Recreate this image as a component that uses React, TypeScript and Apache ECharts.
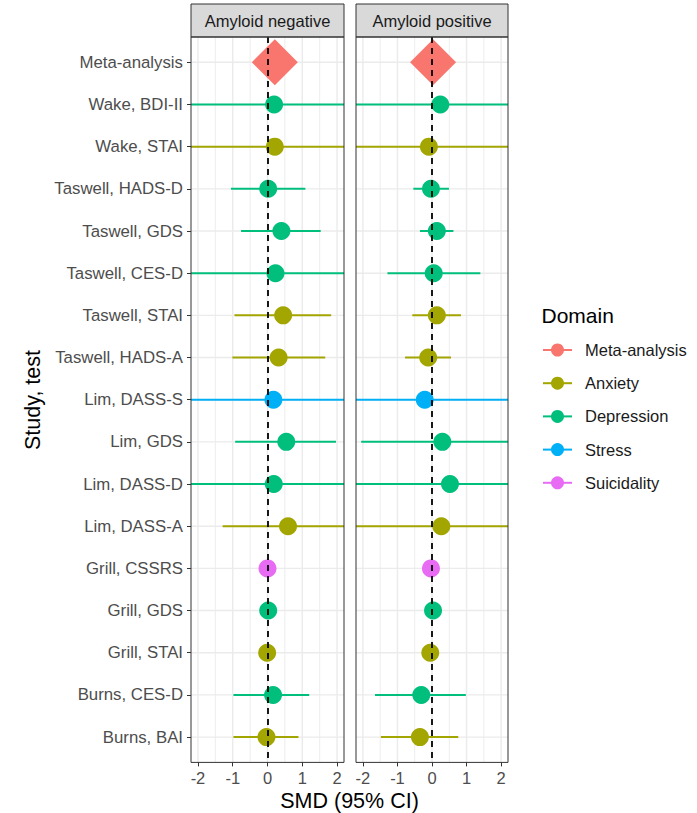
import React, { useEffect, useRef } from 'react';
import * as echarts from 'echarts';

const categories = [
  'Meta-analysis', 'Wake, BDI-II', 'Wake, STAI', 'Taswell, HADS-D', 'Taswell, GDS',
  'Taswell, CES-D', 'Taswell, STAI', 'Taswell, HADS-A', 'Lim, DASS-S', 'Lim, GDS',
  'Lim, DASS-D', 'Lim, DASS-A', 'Grill, CSSRS', 'Grill, GDS', 'Grill, STAI',
  'Burns, CES-D', 'Burns, BAI',
];
const domainNames = ['Meta-analysis', 'Anxiety', 'Depression', 'Stress', 'Suicidality'];
const domainColors = ['#F8766D', '#A3A500', '#00BF7D', '#00B0F6', '#E76BF3'];
const rowDomains = [
  'Meta-analysis', 'Depression', 'Anxiety', 'Depression', 'Depression',
  'Depression', 'Anxiety', 'Anxiety', 'Stress', 'Depression',
  'Depression', 'Anxiety', 'Suicidality', 'Depression', 'Anxiety',
  'Depression', 'Anxiety',
];
const panelTitles = ['Amyloid negative', 'Amyloid positive'];

// Amyloid negative
const negSMD = [0.21, 0.19, 0.21, 0.02, 0.40, 0.23, 0.45, 0.32, 0.17, 0.54, 0.18, 0.59, 0.00, 0.02, -0.01, 0.16, -0.03];
const negLow = [null, -3.2, -3.6, -1.05, -0.76, -2.9, -0.95, -1.01, -3.1, -0.93, -2.8, -1.29, null, null, null, -0.98, -0.98];
const negHigh = [null, 3.6, 4.0, 1.09, 1.53, 3.4, 1.83, 1.66, 3.4, 1.97, 3.2, 2.5, null, null, null, 1.20, 0.89];
// Amyloid positive
const posSMD = [0.03, 0.24, -0.09, -0.03, 0.14, 0.05, 0.14, -0.11, -0.21, 0.30, 0.52, 0.27, -0.03, 0.03, -0.05, -0.31, -0.35];
const posLow = [null, -3.3, -3.5, -0.54, -0.35, -1.29, -0.57, -0.78, -2.9, -2.05, -2.6, -3.0, null, null, null, -1.65, -1.48];
const posHigh = [null, 3.8, 3.3, 0.49, 0.62, 1.40, 0.84, 0.55, 2.5, 2.65, 3.6, 3.5, null, null, null, 0.98, 0.76];

const xTicks = [-2, -1, 0, 1, 2];
const xMinor = [-1.5, -0.5, 0.5, 1.5];
const X_MIN = -2.2;
const X_MAX = 2.2;
const Y_MIN = -0.6;
const Y_MAX = categories.length - 1 + 0.6;

const FONT = '"Liberation Sans", Arial, Helvetica, sans-serif';

export default function App() {
  const ref = useRef<HTMLDivElement>(null);
  useEffect(() => {
    document.body.style.margin = '0';
    const chart = echarts.init(ref.current!, null, { renderer: 'svg' });
    const top = 37;
    const height = 725.4;
    const panels = [
      { left: 191, width: 153, smd: negSMD, low: negLow, high: negHigh },
      { left: 356, width: 152, smd: posSMD, low: posLow, high: posHigh },
    ];
    const rowIdx = categories.map((_, i) => i);
    const colorOf = (d: string) => domainColors[domainNames.indexOf(d)];

    const grids: any[] = [];
    const xAxes: any[] = [];
    const yAxes: any[] = [];
    const series: any[] = [];
    const graphics: any[] = [];

    panels.forEach((p, g) => {
      grids.push({ left: p.left, top, width: p.width, height, show: false, containLabel: false, outerBoundsMode: 'none' });
      xAxes.push({
        type: 'value', gridIndex: g, min: X_MIN, max: X_MAX, position: 'bottom',
        axisLine: { show: false, onZero: false }, splitLine: { show: false },
        axisTick: { show: true, length: 4, lineStyle: { color: '#333333', width: 1 }, customValues: xTicks },
        axisLabel: {
          customValues: xTicks, color: '#4D4D4D', fontSize: 16.5, fontFamily: FONT, margin: 7,
          formatter: (v: number) => String(v),
        },
      });
      yAxes.push({
        type: 'value', gridIndex: g, min: Y_MIN, max: Y_MAX, inverse: true, position: 'left',
        axisLine: { show: false, onZero: false }, splitLine: { show: false },
        axisTick: { show: g === 0, length: 4, lineStyle: { color: '#333333', width: 1 }, customValues: rowIdx },
        axisLabel: {
          show: g === 0, customValues: rowIdx, color: '#4D4D4D', fontSize: 16.8, fontFamily: FONT, margin: 8,
          formatter: (v: number) => categories[Math.round(v)] ?? '',
        },
      });

      // grid lines
      const gl: number[][] = [
        ...xTicks.map((v) => [v, 0]),
        ...xMinor.map((v) => [v, 1]),
        ...rowIdx.map((v) => [v, 2]),
      ];
      series.push({
        type: 'custom', xAxisIndex: g, yAxisIndex: g, z: 0, silent: true,
        data: gl,
        encode: { x: 0 },
        renderItem: (params: any, api: any) => {
          const v = api.value(0);
          const kind = api.value(1);
          let a, b;
          if (kind === 2) {
            a = api.coord([X_MIN, v]);
            b = api.coord([X_MAX, v]);
          } else {
            a = api.coord([v, Y_MIN]);
            b = api.coord([v, Y_MAX]);
          }
          return {
            type: 'line',
            shape: { x1: a[0], y1: a[1], x2: b[0], y2: b[1] },
            style: { stroke: '#EBEBEB', lineWidth: kind === 1 ? 0.9 : 1.4 },
          };
        },
      });

      // error bars
      const eb: any[] = [];
      rowIdx.forEach((i) => {
        if (p.low[i] != null && p.high[i] != null) {
          eb.push([p.low[i], p.high[i], i, domainNames.indexOf(rowDomains[i])]);
        }
      });
      series.push({
        type: 'custom', xAxisIndex: g, yAxisIndex: g, z: 2, silent: true, clip: true,
        data: eb,
        encode: { x: [0, 1], y: 2 },
        renderItem: (params: any, api: any) => {
          const lo = Math.max(api.value(0), X_MIN);
          const hi = Math.min(api.value(1), X_MAX);
          const y = api.value(2);
          const a = api.coord([lo, y]);
          const b = api.coord([hi, y]);
          return {
            type: 'line',
            shape: { x1: a[0], y1: a[1], x2: b[0], y2: b[1] },
            style: { stroke: domainColors[api.value(3)], lineWidth: 2 },
          };
        },
      });

      // points
      series.push({
        type: 'scatter', xAxisIndex: g, yAxisIndex: g, z: 3, silent: true,
        data: rowIdx.map((i) => ({
          value: [p.smd[i], i],
          symbol: i === 0 ? 'diamond' : 'circle',
          symbolSize: i === 0 ? 46 : 18,
          itemStyle: { color: colorOf(rowDomains[i]), opacity: 1 },
        })),
        markLine: {
          silent: true, symbol: ['none', 'none'], animation: false,
          label: { show: false },
          lineStyle: { color: '#000000', type: [6, 5], width: 1.8, opacity: 1 },
          emphasis: { disabled: true },
          data: [{ xAxis: 0 }],
        },
      });

      // strip + panel border
      graphics.push({
        type: 'rect', z: 100,
        shape: { x: p.left, y: 4, width: p.width, height: top - 4 },
        style: { fill: '#D9D9D9', stroke: '#333333', lineWidth: 1 },
      });
      graphics.push({
        type: 'text', z: 101, x: p.left + p.width / 2, y: 21,
        style: {
          text: panelTitles[g], fill: '#1A1A1A', font: `16.5px ${FONT}`,
          align: 'center', verticalAlign: 'middle', textAlign: 'center', textVerticalAlign: 'middle',
        },
      });
      graphics.push({
        type: 'rect', z: 100,
        shape: { x: p.left, y: top, width: p.width, height },
        style: { fill: 'none', stroke: '#333333', lineWidth: 1 },
      });
    });

    // axis titles
    graphics.push({
      type: 'text', z: 101, x: 349.5, y: 801,
      style: {
        text: 'SMD (95% CI)', fill: '#000000', font: `21.5px ${FONT}`,
        align: 'center', verticalAlign: 'middle', textAlign: 'center', textVerticalAlign: 'middle',
      },
    });
    graphics.push({
      type: 'text', z: 101, x: 33, y: 400, rotation: Math.PI / 2,
      style: {
        text: 'Study, test', fill: '#000000', font: `21.5px ${FONT}`,
        align: 'center', verticalAlign: 'middle', textAlign: 'center', textVerticalAlign: 'middle',
      },
    });

    // legend
    graphics.push({
      type: 'text', z: 101, x: 541.5, y: 315,
      style: {
        text: 'Domain', fill: '#000000', font: `21px ${FONT}`,
        align: 'left', verticalAlign: 'middle', textAlign: 'left', textVerticalAlign: 'middle',
      },
    });
    domainNames.forEach((d, k) => {
      const y = 350 + k * 33.2;
      graphics.push({
        type: 'line', z: 101,
        shape: { x1: 543, y1: y, x2: 572, y2: y },
        style: { stroke: domainColors[k], lineWidth: 2 },
      });
      graphics.push({
        type: 'circle', z: 102,
        shape: { cx: 557.5, cy: y, r: 6.5 },
        style: { fill: domainColors[k] },
      });
      graphics.push({
        type: 'text', z: 101, x: 585, y,
        style: {
          text: d, fill: '#1A1A1A', font: `16.5px ${FONT}`,
          align: 'left', verticalAlign: 'middle', textAlign: 'left', textVerticalAlign: 'middle',
        },
      });
    });

    chart.setOption({
      animation: false,
      backgroundColor: '#FFFFFF',
      textStyle: { fontFamily: FONT },
      grid: grids,
      xAxis: xAxes,
      yAxis: yAxes,
      series,
      graphic: { elements: graphics },
    });
    return () => chart.dispose();
  }, []);
  return <div ref={ref} style={{ position: 'absolute', left: 0, top: 0, width: 697, height: 813 }} />;
}
